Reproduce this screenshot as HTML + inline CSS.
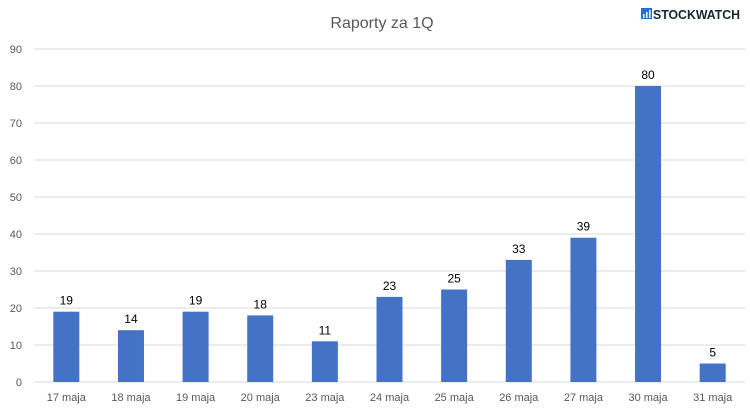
<!DOCTYPE html>
<html><head><meta charset="utf-8"><style>
body{margin:0;background:#fff;font-family:"Liberation Sans",sans-serif}
</style></head><body>
<svg width="750" height="408" style="display:block">
<text x="382" y="28" text-anchor="middle" font-size="16" fill="#595959">Raporty za 1Q</text>
<g>
<rect x="641" y="8" width="11" height="11" fill="#2a6fc9"/>
<rect x="643" y="14" width="1.5" height="4" fill="#fff"/><rect x="646" y="12" width="1.5" height="6" fill="#fff"/><rect x="649" y="10" width="1.5" height="8" fill="#fff"/>
<text x="653" y="19" font-size="13" font-weight="bold" fill="#1a2530" textLength="87" lengthAdjust="spacingAndGlyphs">STOCKWATCH</text>
</g>
<g id="grid"></g><g id="bars"></g><g id="labels"></g>
</svg>
<script>
const categories=["17 maja","18 maja","19 maja","20 maja","23 maja","24 maja","25 maja","26 maja","27 maja","30 maja","31 maja"];
const values=[19,14,19,18,11,23,25,33,39,80,5];
const ticks=[0,10,20,30,40,50,60,70,80,90];
const NS="http://www.w3.org/2000/svg";
const x0=34,x1=745,y0=382,yMax=90,yTop=49;
const y=v=>y0-(v/yMax)*(y0-yTop);
const bw=(x1-x0)/categories.length;
const xc=i=>x0+bw*(i+0.5);
function mk(tag,attrs,parent,txt){const e=document.createElementNS(NS,tag);for(const k in attrs)e.setAttribute(k,attrs[k]);if(txt!=null)e.textContent=txt;document.getElementById(parent).appendChild(e);return e;}
ticks.forEach(t=>{
 const l=mk("line",{x1:x0,x2:x1,y1:y(t),y2:y(t),stroke:"#d9d9d9","stroke-width":1},"grid");
 
 
 const tx=mk("text",{x:22,y:y(t)+4,"text-anchor":"end","font-size":11,fill:"#595959"},"grid",t);
 
 
});
categories.forEach((c,i)=>{
 const r=mk("rect",{x:xc(i)-13,y:y(values[i]),width:26,height:y0-y(values[i]),fill:"#4472c4"},"bars");
 
 
 const v=mk("text",{x:xc(i),y:y(values[i])-7,"text-anchor":"middle","font-size":12,fill:"#000"},"labels",values[i]);
 
 
 const xl=mk("text",{x:xc(i),y:401,"text-anchor":"middle","font-size":11,fill:"#595959"},"labels",c);
 
 
});
</script>
</body></html>
